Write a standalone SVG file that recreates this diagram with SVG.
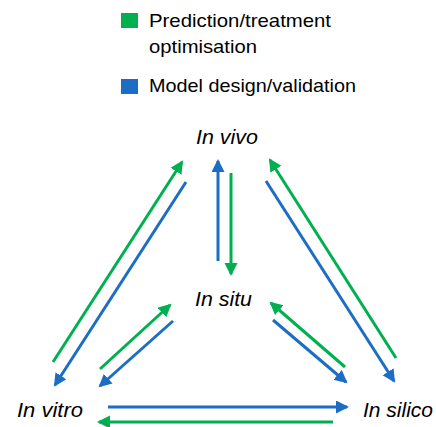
<svg xmlns="http://www.w3.org/2000/svg" width="436" height="427" viewBox="0 0 436 427">
<style>
.lbl{font-family:"Liberation Sans","DejaVu Sans",sans-serif;font-style:italic;font-size:20px;fill:#000}
.leg{font-family:"Liberation Sans","DejaVu Sans",sans-serif;font-size:18.5px;fill:#000}
.g{stroke:#00B050;stroke-width:3;fill:none}
.b{stroke:#1C6DC4;stroke-width:3;fill:none}
</style>
<defs>
<marker id="ag" markerUnits="userSpaceOnUse" markerWidth="14" markerHeight="14" refX="11" refY="6.5" orient="auto"><path d="M0,0 L13,6.5 L0,13 z" fill="#00B050"/></marker>
<marker id="ab" markerUnits="userSpaceOnUse" markerWidth="14" markerHeight="14" refX="11" refY="6.5" orient="auto"><path d="M0,0 L13,6.5 L0,13 z" fill="#1C6DC4"/></marker>
</defs>
<g id="legend">
<rect x="121" y="13" width="17" height="15" fill="#00B050"/>
<text class="leg" x="149" y="27" textLength="182" lengthAdjust="spacingAndGlyphs">Prediction/treatment</text>
<text class="leg" x="149" y="53" textLength="108" lengthAdjust="spacingAndGlyphs">optimisation</text>
<rect x="121" y="79" width="17" height="15" fill="#1C6DC4"/>
<text class="leg" x="149" y="92" textLength="207" lengthAdjust="spacingAndGlyphs">Model design/validation</text>
</g>
<g id="invivo"><text class="lbl" x="196" y="144" textLength="62" lengthAdjust="spacingAndGlyphs">In vivo</text></g>
<g id="insitu"><text class="lbl" x="195" y="306" textLength="57" lengthAdjust="spacingAndGlyphs">In situ</text></g>
<g id="invitro"><text class="lbl" x="17" y="417" textLength="66" lengthAdjust="spacingAndGlyphs">In vitro</text></g>
<g id="insilico"><text class="lbl" x="363" y="417" textLength="70" lengthAdjust="spacingAndGlyphs">In silico</text></g>
<g id="connectors">
<line class="g" x1="53" y1="362" x2="182" y2="162" marker-end="url(#ag)"/>
<line class="b" x1="186" y1="182" x2="55" y2="385" marker-end="url(#ab)"/>
<line class="b" x1="218" y1="261" x2="218" y2="161" marker-end="url(#ab)"/>
<line class="g" x1="231" y1="173" x2="231" y2="274" marker-end="url(#ag)"/>
<line class="g" x1="396" y1="358" x2="270" y2="160" marker-end="url(#ag)"/>
<line class="b" x1="266" y1="181" x2="394" y2="381" marker-end="url(#ab)"/>
<line class="g" x1="100" y1="369" x2="170" y2="305" marker-end="url(#ag)"/>
<line class="b" x1="173" y1="321" x2="100" y2="386" marker-end="url(#ab)"/>
<line class="g" x1="345" y1="367" x2="271" y2="303" marker-end="url(#ag)"/>
<line class="b" x1="273" y1="320" x2="346" y2="382" marker-end="url(#ab)"/>
<line class="b" x1="108" y1="407" x2="347" y2="407" marker-end="url(#ab)"/>
<line class="g" x1="333" y1="422" x2="99" y2="422" marker-end="url(#ag)"/>
</g>
</svg>
